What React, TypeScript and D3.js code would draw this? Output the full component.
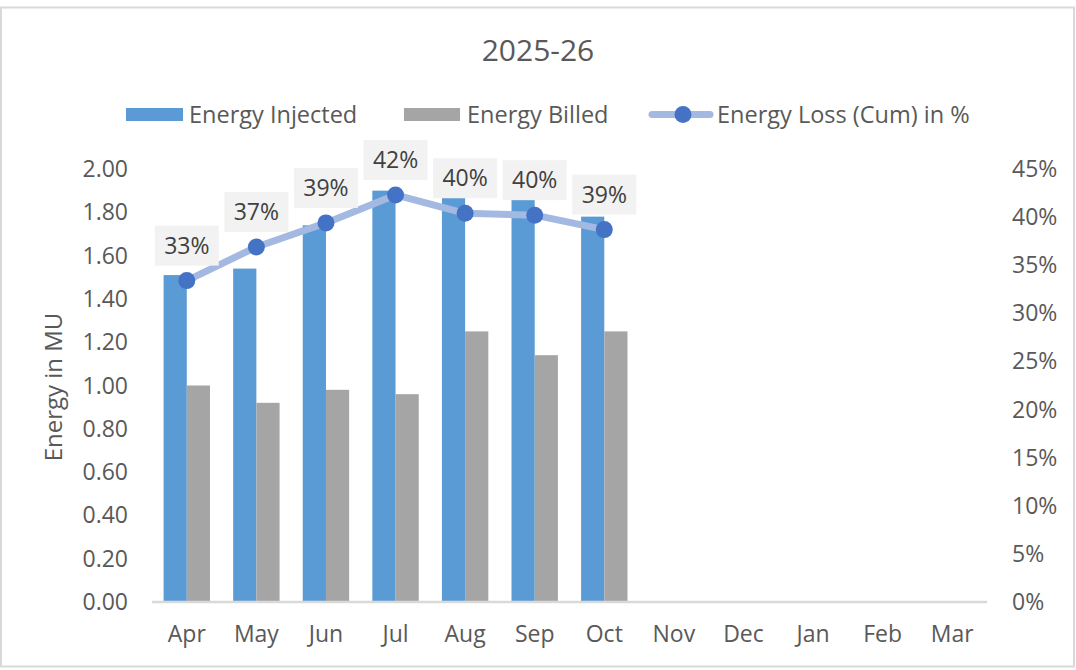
import { useEffect, useRef } from "react";
import * as d3 from "d3";

const title = "2025-26";
const months = ["Apr", "May", "Jun", "Jul", "Aug", "Sep", "Oct", "Nov", "Dec", "Jan", "Feb", "Mar"];
const injected = [1.51, 1.54, 1.74, 1.9, 1.87, 1.86, 1.78];
const billed = [1.0, 0.92, 0.98, 0.96, 1.25, 1.14, 1.25];
const lossPct = [33.4, 36.9, 39.4, 42.3, 40.4, 40.2, 38.7];
const leftTicks = [0, 0.2, 0.4, 0.6, 0.8, 1.0, 1.2, 1.4, 1.6, 1.8, 2.0];
const rightTicks = [0, 5, 10, 15, 20, 25, 30, 35, 40, 45];
const seriesNames = ["Energy Injected", "Energy Billed", "Energy Loss (Cum) in %"];

const W = 1076;
const H = 670;
const PLOT = { left: 152, right: 987, top: 169, bottom: 602 };
const FONT = "'Open Sans', 'Noto Sans', sans-serif";
const TXT = "#595959";
const BLUE = "#5b9bd5";
const GRAY = "#a5a5a5";
const LINE = "#a3b9e2";
const DOT = "#4472c4";
const FS = 23;

export default function App() {
  const svgRef = useRef<SVGSVGElement>(null);

  useEffect(() => {
    const svg = d3.select(svgRef.current);
    svg.selectAll("*").remove();

    // frame
    svg.append("rect")
      .attr("x", 1).attr("y", 7.5)
      .attr("width", W - 3).attr("height", 659)
      .attr("fill", "#fff")
      .attr("stroke", "#d9d9d9")
      .attr("stroke-width", 2);

    const x = d3.scaleBand().domain(months).range([PLOT.left, PLOT.right]);
    const y = d3.scaleLinear().domain([0, 2]).range([PLOT.bottom, PLOT.top]);
    const yr = d3.scaleLinear().domain([0, 45]).range([PLOT.bottom, PLOT.top]);
    const bw = x.bandwidth() / 3;

    // title
    svg.append("text")
      .attr("x", 538).attr("y", 61)
      .attr("text-anchor", "middle")
      .attr("font-size", 30).attr("fill", TXT)
      .attr("font-family", FONT)
      .text(title);

    // left axis labels
    svg.append("g")
      .selectAll("text")
      .data(leftTicks)
      .join("text")
      .attr("x", 128)
      .attr("y", d => y(d))
      .attr("dy", "0.35em")
      .attr("text-anchor", "end")
      .attr("font-size", FS).attr("fill", TXT).attr("font-family", FONT)
      .text(d => d3.format(".2f")(d));

    // right axis labels
    svg.append("g")
      .selectAll("text")
      .data(rightTicks)
      .join("text")
      .attr("x", 1012)
      .attr("y", d => yr(d))
      .attr("dy", "0.35em")
      .attr("text-anchor", "start")
      .attr("font-size", FS).attr("fill", TXT).attr("font-family", FONT)
      .text(d => d + "%");

    // axis title
    svg.append("text")
      .attr("transform", "translate(62,387) rotate(-90)")
      .attr("text-anchor", "middle")
      .attr("font-size", 24).attr("fill", TXT).attr("font-family", FONT)
      .text("Energy in MU");

    // bars
    svg.append("g")
      .selectAll("rect")
      .data(injected)
      .join("rect")
      .attr("x", (d, i) => x(months[i])! + bw / 2)
      .attr("y", d => y(d))
      .attr("width", bw)
      .attr("height", d => y(0) - y(d))
      .attr("fill", BLUE);

    svg.append("g")
      .selectAll("rect")
      .data(billed)
      .join("rect")
      .attr("x", (d, i) => x(months[i])! + bw * 1.5)
      .attr("y", d => y(d))
      .attr("width", bw)
      .attr("height", d => y(0) - y(d))
      .attr("fill", GRAY);

    // x axis line
    svg.append("line")
      .attr("x1", PLOT.left).attr("x2", PLOT.right)
      .attr("y1", PLOT.bottom).attr("y2", PLOT.bottom)
      .attr("stroke", "#d9d9d9").attr("stroke-width", 2.5);

    // category labels
    svg.append("g")
      .selectAll("text")
      .data(months)
      .join("text")
      .attr("x", d => x(d)! + x.bandwidth() / 2)
      .attr("y", 642)
      .attr("text-anchor", "middle")
      .attr("font-size", FS).attr("fill", TXT).attr("font-family", FONT)
      .text(d => d);

    // loss line
    const cx = (i: number) => x(months[i])! + x.bandwidth() / 2;
    const line = d3.line<number>().x((d, i) => cx(i)).y(d => yr(d));
    svg.append("path")
      .datum(lossPct)
      .attr("d", line)
      .attr("fill", "none")
      .attr("stroke", LINE)
      .attr("stroke-width", 7)
      .attr("stroke-linejoin", "round")
      .attr("stroke-linecap", "round");

    svg.append("g")
      .selectAll("circle")
      .data(lossPct)
      .join("circle")
      .attr("cx", (d, i) => cx(i))
      .attr("cy", d => yr(d))
      .attr("r", 8.5)
      .attr("fill", DOT);

    // data labels
    const lab = svg.append("g")
      .selectAll("g")
      .data(lossPct)
      .join("g")
      .attr("transform", (d, i) => `translate(${cx(i)},${yr(d) - 35})`);
    lab.append("rect")
      .attr("x", -32).attr("y", -20)
      .attr("width", 64).attr("height", 40)
      .attr("fill", "#f2f2f2");
    lab.append("text")
      .attr("text-anchor", "middle")
      .attr("dy", "0.35em")
      .attr("font-size", FS).attr("fill", "#404040").attr("font-family", FONT)
      .text(d => Math.round(d) + "%");

    // legend
    const leg = svg.append("g").attr("font-family", FONT).attr("font-size", 23.5).attr("fill", TXT);
    leg.append("rect").attr("x", 126).attr("y", 108).attr("width", 57).attr("height", 13).attr("fill", BLUE);
    leg.append("text").attr("x", 189).attr("y", 114.5).attr("dy", "0.35em").text(seriesNames[0]);
    leg.append("rect").attr("x", 404).attr("y", 108).attr("width", 56).attr("height", 13).attr("fill", GRAY);
    leg.append("text").attr("x", 467).attr("y", 114.5).attr("dy", "0.35em").text(seriesNames[1]);
    leg.append("line")
      .attr("x1", 652).attr("x2", 710).attr("y1", 114.5).attr("y2", 114.5)
      .attr("stroke", LINE).attr("stroke-width", 7).attr("stroke-linecap", "round");
    leg.append("circle").attr("cx", 683).attr("cy", 114.5).attr("r", 8.5).attr("fill", DOT);
    leg.append("text").attr("x", 717).attr("y", 114.5).attr("dy", "0.35em").text(seriesNames[2]);
  }, []);

  return (
    <div style={{ position: "absolute", left: 0, top: 0, width: W, height: H, background: "#fff" }}>
      <svg ref={svgRef} width={W} height={H} style={{ display: "block" }} />
    </div>
  );
}
